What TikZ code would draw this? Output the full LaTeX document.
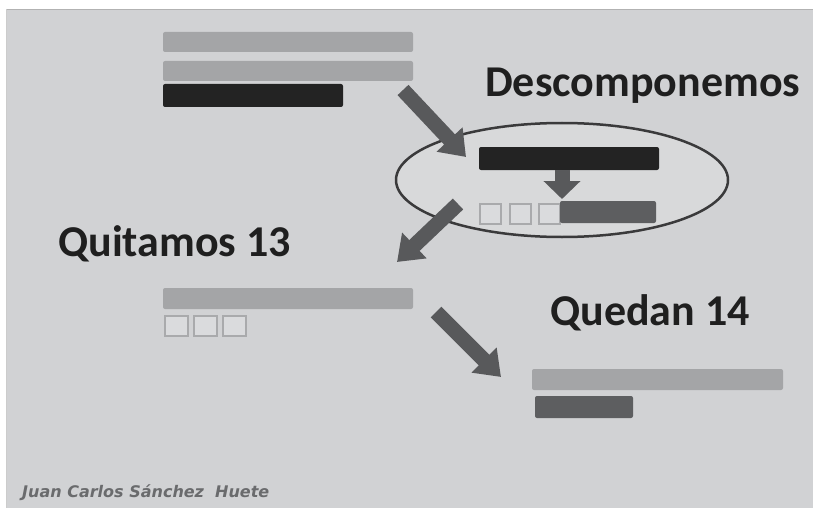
\documentclass[tikz,border=0pt]{standalone}
\usepackage{fontspec}
\setmainfont{Carlito}
\newfontfamily\authorfont{DejaVu Sans}
\usetikzlibrary{arrows.meta}
\definecolor{bgray}{HTML}{D1D2D4}
\definecolor{lightbar}{HTML}{A4A5A7}
\definecolor{blackbar}{HTML}{232323}
\definecolor{darkbar}{HTML}{5D5E60}
\definecolor{arrowgray}{HTML}{58595B}
\definecolor{sqstroke}{HTML}{A9AAAC}
\definecolor{sqfill}{HTML}{DADBDD}
\definecolor{ellline}{HTML}{3A3A3B}
\definecolor{authorc}{HTML}{6A6B6D}
\tikzset{
  x=1pt, y=-1pt,
  bar/.style={draw=none, rounded corners=2pt, inner sep=0pt, outer sep=0pt, anchor=north west},
  lightb/.style={bar, fill=lightbar},
  blackb/.style={bar, fill=blackbar},
  darkb/.style={bar, fill=darkbar},
  sq/.style={draw=sqstroke, line width=2pt, fill=sqfill, inner sep=0pt, anchor=north west},
  blockarrow/.style={draw=arrowgray, line width=15pt, -{Triangle[width=34pt,length=24pt]}},
  smallarrow/.style={draw=arrowgray, line width=15pt, -{Triangle[width=36pt,length=18pt]}},
  label/.style={font=\fontsize{44}{48}\selectfont\bfseries, text=black!88, inner sep=0pt, anchor=base west},
}
\begin{document}
\begin{tikzpicture}
\useasboundingbox (0,0) rectangle (813,508);
\fill[white] (0,0) rectangle (813,508);
\fill[bgray] (6,9) rectangle (813,508);
\draw[gray!60, line width=1pt] (6,9.5) -- (813,9.5);
\draw[gray!40, line width=1pt] (6.5,9) -- (6.5,508);

% top bars
\node[lightb, minimum width=250pt, minimum height=20pt] (b1) at (163,32) {};
\node[lightb, minimum width=250pt, minimum height=20pt] (b2) at (163,61) {};
\node[blackb, minimum width=180pt, minimum height=23pt] (b3) at (163,84) {};

% label Descomponemos
\node[label] (t1) at (485,97) {Descomponemos};

% ellipse
\coordinate (ec) at (562,180);
\draw[ellline, line width=2.5pt, fill=bgray!85!white] (ec) ellipse [x radius=166, y radius=57];

\node[blackb, minimum width=180pt, minimum height=23pt] (b4) at (479,147) {};
\coordinate (sa1) at (562,170);
\coordinate (sa2) at (562,199);
\draw[smallarrow] (sa1) -- (sa2);
\node[sq, minimum width=21pt, minimum height=20pt] (s1) at (479,203) {};
\node[sq, minimum width=21pt, minimum height=20pt] (s2) at (509,203) {};
\node[sq, minimum width=21pt, minimum height=20pt] (s3) at (538,203) {};
\node[darkb, minimum width=96pt, minimum height=22pt] (b5) at (560,201) {};

% arrows
\coordinate (a1s) at (403,90);
\coordinate (a1e) at (466,157);
\draw[blockarrow] (a1s) -- (a1e);
\coordinate (a2s) at (458,204);
\coordinate (a2e) at (397,262);
\draw[blockarrow] (a2s) -- (a2e);
\coordinate (a3s) at (436,312);
\coordinate (a3e) at (501,377);
\draw[blockarrow] (a3s) -- (a3e);

% Quitamos
\node[label] (t2) at (58,256) {Quitamos 13};
\node[lightb, minimum width=250pt, minimum height=21pt] (b6) at (163,288) {};
\node[sq, minimum width=23pt, minimum height=20pt] (s4) at (164,315) {};
\node[sq, minimum width=23pt, minimum height=20pt] (s5) at (193,315) {};
\node[sq, minimum width=23pt, minimum height=20pt] (s6) at (222,315) {};

% Quedan
\node[label] (t3) at (550,325) {Quedan 14};
\node[lightb, minimum width=251pt, minimum height=21pt] (b7) at (532,369) {};
\node[darkb, minimum width=98pt, minimum height=22pt] (b8) at (535,396) {};

% author
\node[font=\authorfont\fontsize{16}{19}\selectfont\bfseries\itshape, text=authorc, inner sep=0pt, anchor=base west] (au) at (22,497) {Juan Carlos Sánchez\ \ Huete};
\end{tikzpicture}
\end{document}
